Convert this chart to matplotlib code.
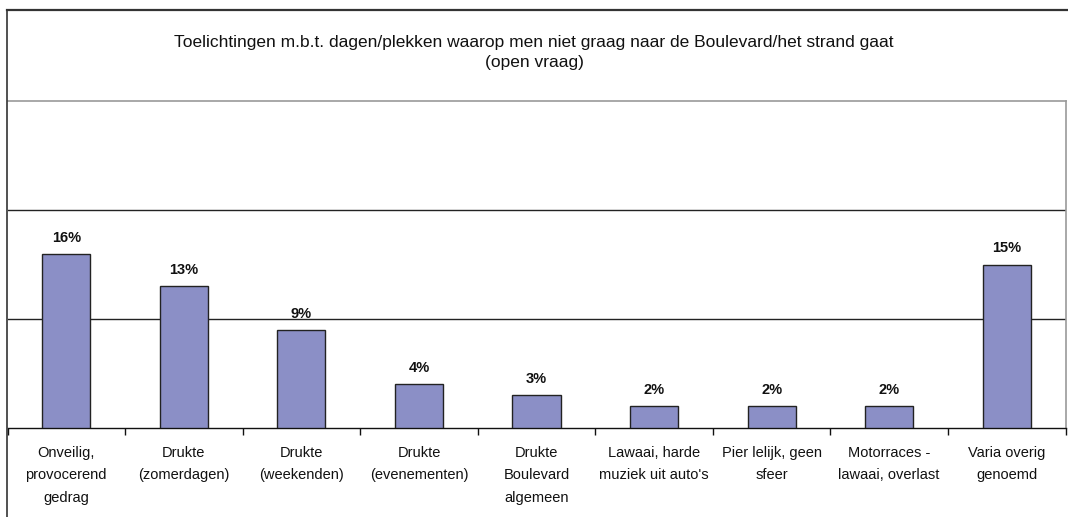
import matplotlib
matplotlib.use("Agg")
import matplotlib.pyplot as plt

categories = [
    "Onveilig,\nprovocerend\ngedrag",
    "Drukte\n(zomerdagen)",
    "Drukte\n(weekenden)",
    "Drukte\n(evenementen)",
    "Drukte\nBoulevard\nalgemeen",
    "Lawaai, harde\nmuziek uit auto's",
    "Pier lelijk, geen\nsfeer",
    "Motorraces -\nlawaai, overlast",
    "Varia overig\ngenoemd",
]
values = [16, 13, 9, 4, 3, 2, 2, 2, 15]
labels = ["16%", "13%", "9%", "4%", "3%", "2%", "2%", "2%", "15%"]
title = "Toelichtingen m.b.t. dagen/plekken waarop men niet graag naar de Boulevard/het strand gaat\n(open vraag)"

plt.rcParams['font.family'] = ['Liberation Sans', 'DejaVu Sans']

W, H = 1068, 517
fig = plt.figure(figsize=(W / 100, H / 100), dpi=100)

# outer chart border (top and left visible)
fig.add_artist(plt.Line2D([7 / W, 7 / W], [0, 1 - 10 / H], color='#333333', lw=1.2, transform=fig.transFigure))
fig.add_artist(plt.Line2D([7 / W, 1], [1 - 10 / H, 1 - 10 / H], color='#333333', lw=1.6, transform=fig.transFigure))

left, right = 7.5 / W, 1065.5 / W
bottom, top = (H - 428) / H, (H - 101) / H
ax = fig.add_axes([left, bottom, right - left, top - bottom])

x = list(range(len(values)))
ax.set_xlim(-0.5, len(values) - 0.5)
ax.set_ylim(0, 30)

for yv in [10, 20]:
    ax.axhline(yv, color='#222222', lw=1, zorder=1)

ax.bar(x, values, width=0.41, color='#8B8FC6', edgecolor='#222222', linewidth=1, zorder=3)
for xi, v, lab in zip(x, values, labels):
    ax.annotate(lab, (xi, v), xytext=(0, 6.5), textcoords='offset points', ha='center', va='bottom',
                fontsize=10.5, fontweight='bold', color='#111111')

for s in ['top', 'right']:
    ax.spines[s].set_color('#999999')
    ax.spines[s].set_linewidth(1.2)
ax.spines['left'].set_visible(False)
ax.spines['bottom'].set_color('#111111')
ax.spines['bottom'].set_linewidth(1)

ax.set_yticks([])
ax.set_xticks([i + 0.5 for i in range(-1, len(values))])
ax.set_xticklabels([])
ax.tick_params(axis='x', direction='out', length=5, width=1, color='#111111')
ax.set_xticks(x, minor=True)
ax.set_xticklabels(categories, minor=True, fontsize=10.5, linespacing=1.75, color='#111111')
ax.tick_params(axis='x', which='minor', length=0, pad=13)

fig.text(0.5, 1 - 52.5 / H, title, ha='center', va='center', fontsize=12.5, linespacing=1.5, color='#111111')

fig.savefig('out.png', dpi=100)
